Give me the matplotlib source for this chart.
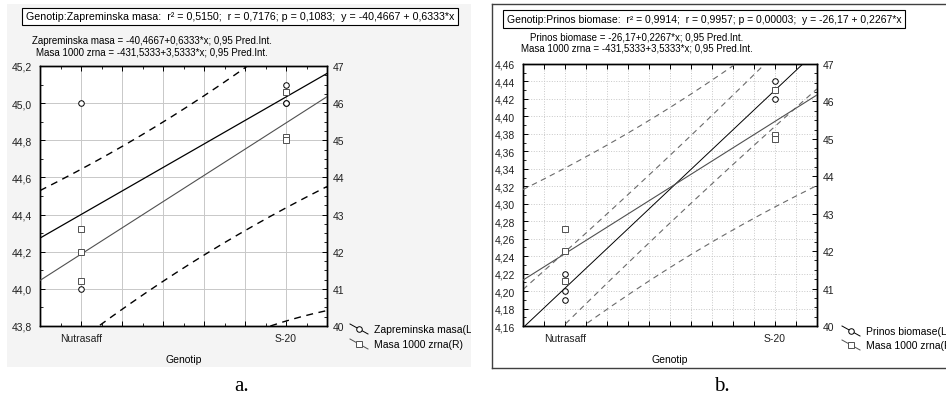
import numpy as np
import matplotlib
matplotlib.use('Agg')
import matplotlib.pyplot as plt
from matplotlib.lines import Line2D
from matplotlib.ticker import MultipleLocator, FuncFormatter

# Genotip is coded in the source: Nutrasaff = 134, S-20 = 135
genotip_codes = [134, 135]
genotip_names = ['Nutrasaff', 'S-20']
genotip_x = [134, 134, 134, 135, 135, 135]

zapreminska_masa = [45.0, 44.2, 44.0, 45.1, 45.0, 45.0]
prinos_biomase = [4.22, 4.20, 4.19, 4.44, 4.42, 4.43]
masa_1000_zrna = [42.6, 42.0, 41.2, 46.3, 45.1, 45.0]

T_975 = 2.7764  # t(0.975, df=4)

W, H = 946, 402
plt.rcParams['font.family'] = ['Liberation Sans', 'DejaVu Sans']
plt.rcParams['font.size'] = 7.5

fig = plt.figure(figsize=(W / 100, H / 100), dpi=100)


def fx(x):
	return x / W


def fy(y):
	return 1 - y / H


def fit(x, y, xs):
	x = np.asarray(x, float)
	y = np.asarray(y, float)
	b, a = np.polyfit(x, y, 1)
	res = y - (a + b * x)
	s = np.sqrt((res ** 2).sum() / (len(x) - 2))
	sxx = ((x - x.mean()) ** 2).sum()
	yhat = a + b * xs
	half = T_975 * s * np.sqrt(1 + 1 / len(x) + (xs - x.mean()) ** 2 / sxx)
	return yhat, yhat - half, yhat + half


def comma(fmt):
	return FuncFormatter(lambda v, p: (fmt % v).replace('.', ','))


def genotip_fmt(v, p):
	for code, name in zip(genotip_codes, genotip_names):
		if abs(v - code) < 1e-6:
			return name
	return ''


def panel(box, left_vals, ylim, ystep, yminor, yfmt, xstep, gridls, dash_color, dash_lw, main_lw):

	l, t, r, b = box
	ax = fig.add_axes([fx(l), fy(b), fx(r - l), (b - t) / H])
	ax2 = ax.twinx()

	xs = np.linspace(133.8, 135.2, 300)

	yh, lo, hi = fit(genotip_x, left_vals, xs)
	ax.plot(xs, yh, color='black', lw=main_lw, zorder=3)
	ax.plot(xs, lo, color=dash_color, lw=dash_lw, ls=(0, (5, 4)), zorder=3)
	ax.plot(xs, hi, color=dash_color, lw=dash_lw, ls=(0, (5, 4)), zorder=3)
	ax.plot(genotip_x, left_vals, 'o', ms=4, mfc='white', mec='black', mew=0.7, zorder=4)

	yh, lo, hi = fit(genotip_x, masa_1000_zrna, xs)
	ax2.plot(xs, yh, color='#505050', lw=0.8, zorder=3)
	ax2.plot(xs, lo, color=dash_color, lw=dash_lw, ls=(0, (5, 4)), zorder=3)
	ax2.plot(xs, hi, color=dash_color, lw=dash_lw, ls=(0, (5, 4)), zorder=3)
	ax2.plot(genotip_x, masa_1000_zrna, 's', ms=4, mfc='white', mec='#505050', mew=0.7, zorder=4)

	ax.set_xlim(133.8, 135.2)
	ax.set_ylim(*ylim)
	ax2.set_ylim(40, 47)

	ax.xaxis.set_major_locator(MultipleLocator(xstep))
	ax.xaxis.set_minor_locator(MultipleLocator(0.1))
	ax.xaxis.set_major_formatter(FuncFormatter(genotip_fmt))
	ax.yaxis.set_major_locator(MultipleLocator(ystep))
	ax.yaxis.set_minor_locator(MultipleLocator(yminor))
	ax.yaxis.set_major_formatter(comma(yfmt))
	ax2.yaxis.set_major_locator(MultipleLocator(1))
	ax2.yaxis.set_minor_locator(MultipleLocator(0.25))

	ax.grid(True, which='major', color='#c8c8c8', lw=0.7, ls=gridls)
	ax.set_axisbelow(True)

	ax.tick_params(which='both', direction='in', top=True, colors='black', labelcolor='#202020')
	ax.tick_params(which='major', length=3.5, width=0.7)
	ax.tick_params(which='minor', length=2, width=0.6)
	ax.tick_params(axis='y', pad=6)
	ax.tick_params(axis='x', pad=5)
	ax2.tick_params(which='both', direction='in', labelcolor='#202020')
	ax2.tick_params(which='major', length=3.5, width=0.7, pad=4)
	ax2.tick_params(which='minor', length=2, width=0.6)
	for a in (ax, ax2):
		for sp in a.spines.values():
			sp.set_linewidth(1.0)

	ax.set_xlabel('Genotip', labelpad=8)
	return ax


# panel a background
bg = fig.add_axes([fx(7), fy(368), fx(471 - 7), (368 - 5) / H], zorder=-5)
bg.set_facecolor('#f4f4f4')
bg.set_xticks([])
bg.set_yticks([])
for sp in bg.spines.values():
	sp.set_visible(False)

# panel b frame
bg2 = fig.add_axes([fx(492), fy(369), fx(470), (369 - 5) / H], zorder=-5)
bg2.set_facecolor('white')
bg2.set_xticks([])
bg2.set_yticks([])
for sp in bg2.spines.values():
	sp.set_linewidth(1.0)
	sp.set_color('#404040')

panel((40, 67, 327, 327), zapreminska_masa, (43.8, 45.2), 0.2, 0.1, '%.1f', 0.2,
	'-', 'black', 1.0, 0.9)
panel((523, 65, 817, 327), prinos_biomase, (4.16, 4.46), 0.02, 0.01, '%.2f', 0.1,
	':', '#6a6a6a', 0.8, 0.7)

box = dict(boxstyle='square,pad=0.35', fc='white', ec='black', lw=0.8)
fig.text(fx(240), fy(17.5),
	'Genotip:Zapreminska masa:  r² = 0,5150;  r = 0,7176; p = 0,1083;  y = -40,4667 + 0,6333*x',
	ha='center', va='center', bbox=box, fontsize=7.7)
fig.text(fx(152), fy(41.5), 'Zapreminska masa = -40,4667+0,6333*x; 0,95 Pred.Int.',
	ha='center', va='center', fontsize=7)
fig.text(fx(152), fy(52.5), 'Masa 1000 zrna = -431,5333+3,5333*x; 0,95 Pred.Int.',
	ha='center', va='center', fontsize=7)

fig.text(fx(704), fy(20),
	'Genotip:Prinos biomase:  r² = 0,9914;  r = 0,9957; p = 0,00003;  y = -26,17 + 0,2267*x',
	ha='center', va='center', bbox=box, fontsize=7.5)
fig.text(fx(637), fy(37.5), 'Prinos biomase = -26,17+0,2267*x; 0,95 Pred.Int.',
	ha='center', va='center', fontsize=7)
fig.text(fx(637), fy(49), 'Masa 1000 zrna = -431,5333+3,5333*x; 0,95 Pred.Int.',
	ha='center', va='center', fontsize=7)

# legends
def legend_entry(x, y, marker, color, label, clip_ax):
	fig.add_artist(Line2D([fx(x), fx(x + 18)], [fy(y - 5), fy(y + 5)], color=color, lw=0.7,
		transform=fig.transFigure))
	fig.add_artist(Line2D([fx(x + 9)], [fy(y)], marker=marker, ms=4, mfc='white', mec=color,
		mew=0.7, transform=fig.transFigure))
	t = fig.text(fx(x + 24), fy(y), label, ha='left', va='center')
	t.set_clip_path(clip_ax.patch)

legend_entry(350, 330, 'o', 'black', 'Zapreminska masa(L)', bg)
legend_entry(350, 345, 's', '#505050', 'Masa 1000 zrna(R)', bg)
legend_entry(842, 332, 'o', 'black', 'Prinos biomase(L)', bg2)
legend_entry(842, 346, 's', '#505050', 'Masa 1000 zrna(R)', bg2)

fig.text(fx(242), fy(387), 'a.', ha='center', va='center', fontsize=15, family='Liberation Serif')
fig.text(fx(722), fy(387), 'b.', ha='center', va='center', fontsize=15, family='Liberation Serif')

fig.savefig('out.png', dpi=100)
